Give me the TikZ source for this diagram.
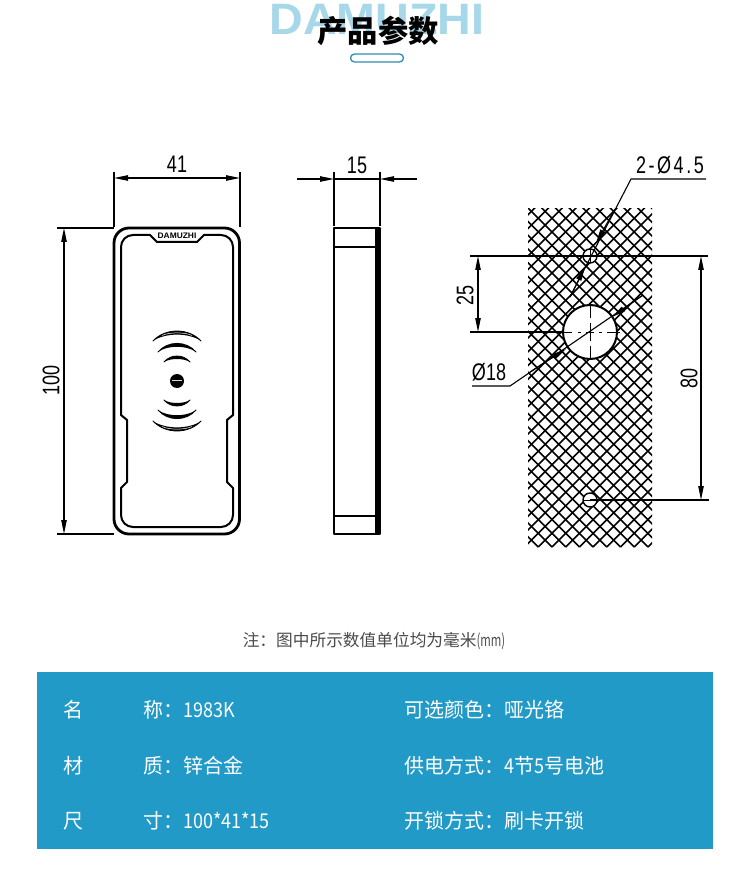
\documentclass[tikz,border=0pt]{standalone}
\usepackage{fontspec}
\setmainfont{Noto Sans CJK SC}
\newfontfamily\dimfont{Liberation Sans}
\newfontfamily\widefont[LetterSpace=14]{Liberation Sans}
\usetikzlibrary{arrows.meta}
\definecolor{bandblue}{HTML}{219AC8}
\definecolor{markblue}{HTML}{A6D8EA}
\definecolor{pillblue}{HTML}{2E8DB3}
\definecolor{notegray}{HTML}{4A4A4A}
\newcommand{\nar}[1]{\scalebox{0.9}[1]{#1}}
\tikzset{
    dimline/.style = {line width = 1.1pt, {Triangle[length=14pt,width=5.4pt]}-{Triangle[length=14pt,width=5.4pt]}},
    arrowin/.style = {line width = 1.1pt, -{Triangle[length=14pt,width=5.4pt]}},
    extline/.style = {line width = 1.1pt},
    body/.style = {line width = 2pt, line join = round},
    dimtext/.style = {font = \dimfont\fontsize{24}{24}\selectfont, xscale = 0.75, inner sep = 0pt},
    dimvert/.style = {font = \dimfont\fontsize{24}{24}\selectfont, yscale = 0.75, rotate = 90, inner sep = 0pt},
    rowtext/.style = {font = \fontsize{20.4}{22}\selectfont, text = white, anchor = west, inner sep = 0pt, xscale = 0.98}
}
\begin{document}
\begin{tikzpicture}[x = 1pt, y = -1pt]
    \useasboundingbox (0,0) rectangle (750,874);
    % heading
    \node[text = markblue, font = \dimfont\bfseries\fontsize{44}{44}\selectfont, xscale = 1.06, inner sep = 0pt] (mark) at (377,20) {DAMUZHI};
    \node[font = \bfseries\fontsize{30.3}{31}\selectfont, inner sep = 0pt] (heading) at (378,31) {产品参数};
    \draw[pillblue, line width = 1.3pt, fill = white, rounded corners = 4pt] (350.5,54) rectangle (403.5,62);
    % front view
    \draw[body, line width = 2.8pt, rounded corners = 15pt] (114,228) rectangle (239.5,534);
    \draw[body] (133,235) -- (150,235) -- (157,242) -- (197,242) -- (204,235) -- (221,235)
        arc (-90:0:12) -- (233,415) -- (227,420) -- (227,482) -- (233,488) -- (233,515)
        arc (0:90:12) -- (133,527) arc (90:180:12) -- (121,488) -- (127,482) -- (127,420) -- (121,415) -- (121,247)
        arc (180:270:12) -- cycle;
    \node[font = \dimfont\bfseries\fontsize{8}{8}\selectfont, xscale = 1.05, inner sep = 0pt] (logo) at (177,236) {DAMUZHI};
    \foreach \s in {1,-1} {
        \begin{scope}[shift = {(177,381)}, yscale = \s]
            \foreach \hw/\ye/\ct/\cb in {24/-40/-53.3/-48.5, 19/-29/-40.5/-36, 13/-19/-27/-23} {
                \fill (-\hw,\ye) .. controls (-\hw/2,\ct) and (\hw/2,\ct) .. (\hw,\ye)
                    .. controls (\hw/2,\cb) and (-\hw/2,\cb) .. cycle;
                \draw[line width = 0.8pt, line cap = round] (-\hw,\ye) .. controls (-\hw/2,\ct) and (\hw/2,\ct) .. (\hw,\ye);
            }
            \draw[white, line width = 0.5pt] (-15,-45.5) .. controls (-8,-49) and (8,-49) .. (15,-45.5);
        \end{scope}
    }
    \fill (177,381) circle (7);
    \fill[white!85!black] (172,379.5) rectangle (182,381);
    % front view dimensions
    \draw[extline] (114,172) -- (114,227);
    \draw[extline] (240,172) -- (240,227);
    \draw[dimline] (114,178) -- (240,178);
    \node[dimtext] (w41) at (177,164) {41};
    \draw[extline] (57,228) -- (114,228);
    \draw[extline] (57,534) -- (114,534);
    \draw[dimline] (64,228) -- (64,534);
    \node[dimvert] (h100) at (51,380) {100};
    % side view
    \draw[body] (334,228) rectangle (380,534);
    \draw[body] (334,247) -- (380,247);
    \draw[body] (334,516) -- (380,516);
    \fill (374.5,228) rectangle (381,534);
    \draw[extline] (334,172) -- (334,226);
    \draw[extline] (380,172) -- (380,226);
    \draw[extline] (334,179) -- (380,179);
    \draw[arrowin] (297,179) -- (334,179);
    \draw[arrowin] (417,179) -- (380,179);
    \node[dimtext] (t15) at (357,165) {15};
    % hatched wall
    \begin{scope}
        \clip (528,209) rectangle (652,547);
        \foreach \k in {-26,...,33} {
            \draw[line width = 1.6pt] (538.3+13.7*\k-340,207) -- (538.3+13.7*\k,547);
            \draw[line width = 1.6pt] (538.3+13.7*\k+340,207) -- (538.3+13.7*\k,547);
        }
    \end{scope}
    \draw[fill = white, line width = 2pt] (590,332) circle (27);
    \draw[fill = white, line width = 1.4pt] (590,256) circle (7);
    \draw[fill = white, line width = 1.4pt] (590,500) circle (7);
    % centre marks
    \draw[line width = 1pt] (558,332) -- (572,332) (578,332) -- (581,332) (586,332) -- (594,332) (599,332) -- (602,332) (607,332) -- (620,332);
    \draw[line width = 1pt] (590,305) -- (590,318) (590,323) -- (590,341) (590,346) -- (590,359);
    \draw[line width = 1pt] (590,249) -- (590,263) (583,500) -- (597,500);
    % wall dimensions
    \draw[extline] (470,256) -- (708,256);
    \draw[extline] (470,332) -- (563,332);
    \draw[extline] (590,500) -- (709,500);
    \draw[dimline] (478,256) -- (478,332);
    \node[dimvert] (d25) at (465,295) {25};
    \draw[dimline] (701,256) -- (701,500);
    \node[dimvert] (d80) at (689,378) {80};
    % leaders
    \draw[extline] (706,179) -- (631,179) -- (570,297);
    \draw[arrowin] (615,209) -- (596,243);
    \draw[arrowin] (570,297) -- (585,267);
    \draw[extline] (472,386) -- (510,386) -- (643,295);
    \draw[arrowin] (530,372) -- (566,349);
    \draw[arrowin] (643,295) -- (612,317);
    \node[font = \widefont\fontsize{24}{24}\selectfont, xscale = 0.75, inner sep = 0pt] (lsmall) at (670,165) {2-Ø4.5};
    \node[dimtext] (lbig) at (489,372) {Ø18};
    % note and table
    \node[font = \fontsize{16.7}{18}\selectfont, text = notegray, inner sep = 0pt] (note) at (374,641) {注：图中所示数值单位均为毫米\scalebox{0.68}[1]{(mm)}};
    \fill[bandblue] (37,672) rectangle (713,849);
    \node[rowtext] (name) at (63,710) {名};
    \node[rowtext] (nameval) at (143,710) {称：\nar{1983K}};
    \node[rowtext] (color) at (404,710) {可选颜色：哑光铬};
    \node[rowtext] (mat) at (63,766) {材};
    \node[rowtext] (matval) at (143,766) {质：锌合金};
    \node[rowtext] (power) at (404,766) {供电方式：\nar{4}节\nar{5}号电池};
    \node[rowtext] (size) at (63,821) {尺};
    \node[rowtext] (sizeval) at (143,821) {寸：\nar{100*41*15}};
    \node[rowtext] (lock) at (404,821) {开锁方式：刷卡开锁};
\end{tikzpicture}
\end{document}
